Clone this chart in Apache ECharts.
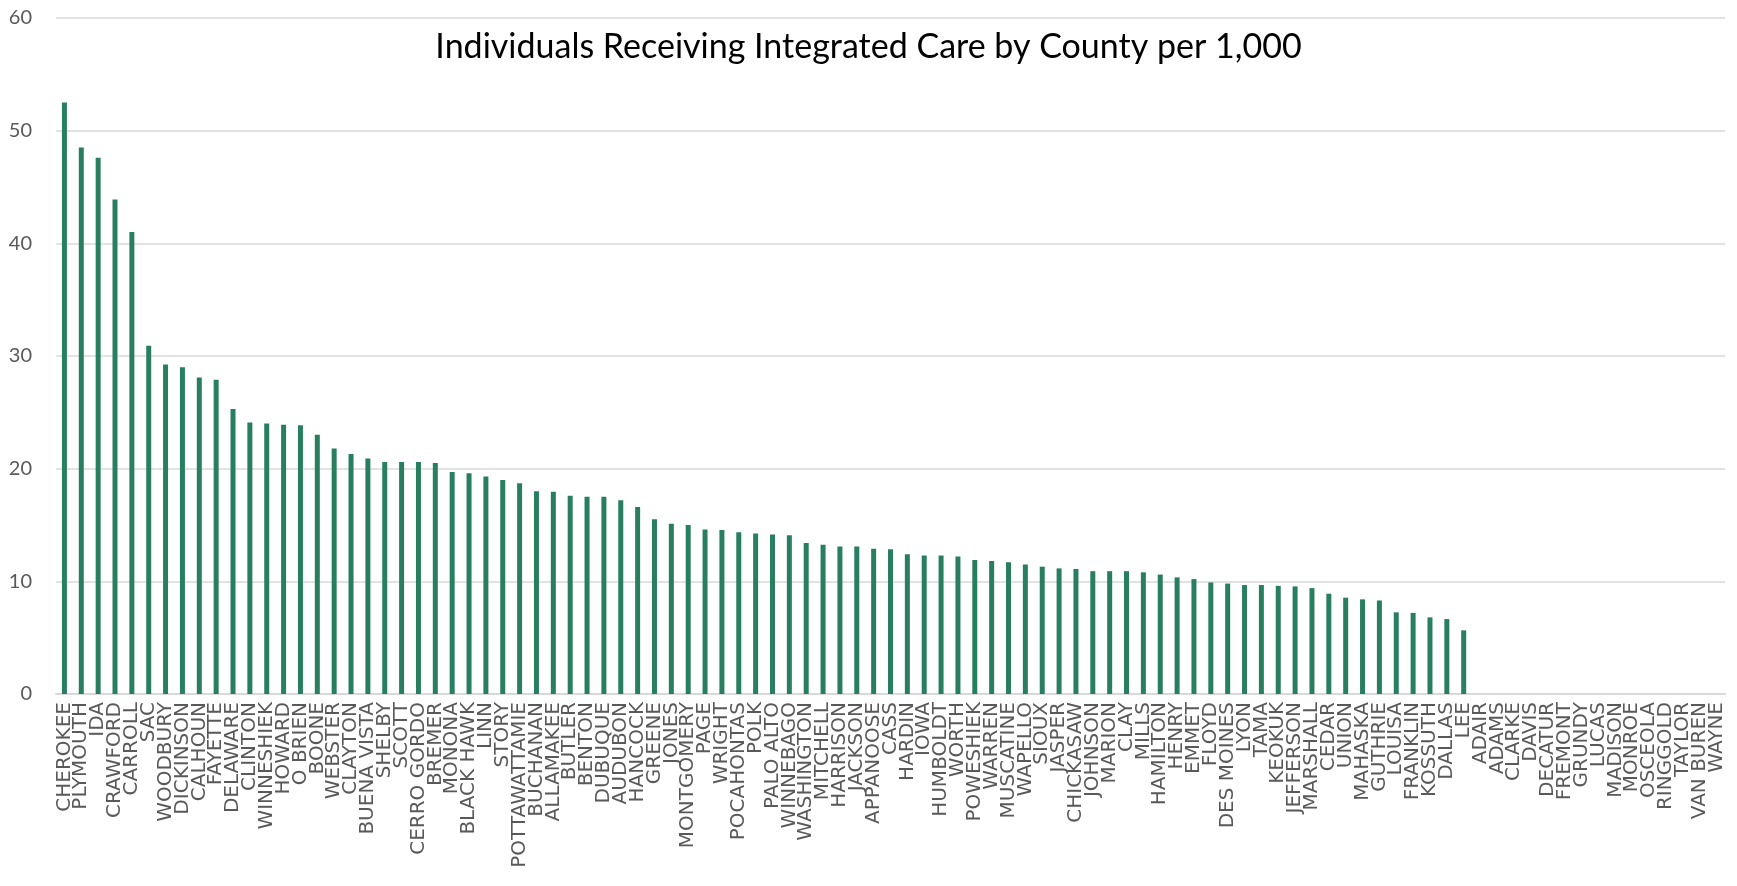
<!DOCTYPE html>
<html>
<head>
<meta charset="utf-8">
<script src="https://cdn.jsdelivr.net/npm/echarts@6/dist/echarts.min.js"></script>
<style>
html,body{margin:0;padding:0;background:#fff;}
#chart{width:1737px;height:886px;}
</style>
</head>
<body>
<div id="chart"></div>
<script>
const titleText = "Individuals Receiving Integrated Care by County per 1,000";

const counties = [
  "CHEROKEE","PLYMOUTH","IDA","CRAWFORD","CARROLL","SAC","WOODBURY","DICKINSON","CALHOUN","FAYETTE",
  "DELAWARE","CLINTON","WINNESHIEK","HOWARD","O BRIEN","BOONE","WEBSTER","CLAYTON","BUENA VISTA","SHELBY",
  "SCOTT","CERRO GORDO","BREMER","MONONA","BLACK HAWK","LINN","STORY","POTTAWATTAMIE","BUCHANAN","ALLAMAKEE",
  "BUTLER","BENTON","DUBUQUE","AUDUBON","HANCOCK","GREENE","JONES","MONTGOMERY","PAGE","WRIGHT",
  "POCAHONTAS","POLK","PALO ALTO","WINNEBAGO","WASHINGTON","MITCHELL","HARRISON","JACKSON","APPANOOSE","CASS",
  "HARDIN","IOWA","HUMBOLDT","WORTH","POWESHIEK","WARREN","MUSCATINE","WAPELLO","SIOUX","JASPER",
  "CHICKASAW","JOHNSON","MARION","CLAY","MILLS","HAMILTON","HENRY","EMMET","FLOYD","DES MOINES",
  "LYON","TAMA","KEOKUK","JEFFERSON","MARSHALL","CEDAR","UNION","MAHASKA","GUTHRIE","LOUISA",
  "FRANKLIN","KOSSUTH","DALLAS","LEE","ADAIR","ADAMS","CLARKE","DAVIS","DECATUR","FREMONT",
  "GRUNDY","LUCAS","MADISON","MONROE","OSCEOLA","RINGGOLD","TAYLOR","VAN BUREN","WAYNE"
];

const ratePer1000 = [
  52.5, 48.5, 47.6, 43.9, 41.0, 30.9, 29.25, 29.0, 28.1, 27.9,
  25.3, 24.1, 24.0, 23.9, 23.85, 23.0, 21.8, 21.3, 20.9, 20.6,
  20.6, 20.6, 20.5, 19.7, 19.6, 19.3, 19.0, 18.7, 18.0, 17.95,
  17.6, 17.5, 17.5, 17.2, 16.6, 15.5, 15.1, 15.0, 14.6, 14.55,
  14.35, 14.25, 14.15, 14.1, 13.4, 13.25, 13.1, 13.1, 12.9, 12.85,
  12.4, 12.3, 12.3, 12.2, 11.9, 11.8, 11.7, 11.5, 11.3, 11.15,
  11.1, 10.9, 10.9, 10.9, 10.8, 10.6, 10.35, 10.2, 9.9, 9.8,
  9.67, 9.67, 9.6, 9.55, 9.4, 8.9, 8.55, 8.4, 8.3, 7.25,
  7.2, 6.8, 6.65, 5.65, 0, 0, 0, 0, 0, 0,
  0, 0, 0, 0, 0, 0, 0, 0, 0
];

const yTicks = { min: 0, max: 60, interval: 10 };

const chart = echarts.init(document.getElementById('chart'), null, { renderer: 'canvas' });
chart.setOption({
  animation: false,
  backgroundColor: '#ffffff',
  title: {
    text: titleText,
    left: 'center',
    top: 25,
    textStyle: { fontFamily: 'Lato', fontSize: 34, fontWeight: 'normal', color: '#000000' }
  },
  grid: { left: 56, right: 12, top: 18, bottom: 192, containLabel: false, outerBoundsMode: 'none' },
  xAxis: {
    type: 'category',
    data: counties,
    axisLine: { show: true, lineStyle: { color: '#d9d9d9', width: 2 } },
    axisTick: { show: false },
    axisLabel: {
      interval: 0,
      rotate: 90,
      margin: 8,
      fontFamily: 'DejaVu Sans',
      fontSize: 20,
      color: '#595959'
    }
  },
  yAxis: {
    type: 'value',
    min: yTicks.min,
    max: yTicks.max,
    interval: yTicks.interval,
    axisLine: { show: false },
    axisTick: { show: false },
    axisLabel: { fontFamily: 'Lato', fontSize: 20, color: '#595959', margin: 24 },
    splitLine: { lineStyle: { color: '#d9d9d9', width: 1.5 } }
  },
  series: [{
    type: 'bar',
    data: ratePer1000,
    barWidth: 5,
    itemStyle: { color: '#277f60' }
  }]
});
</script>
</body>
</html>
